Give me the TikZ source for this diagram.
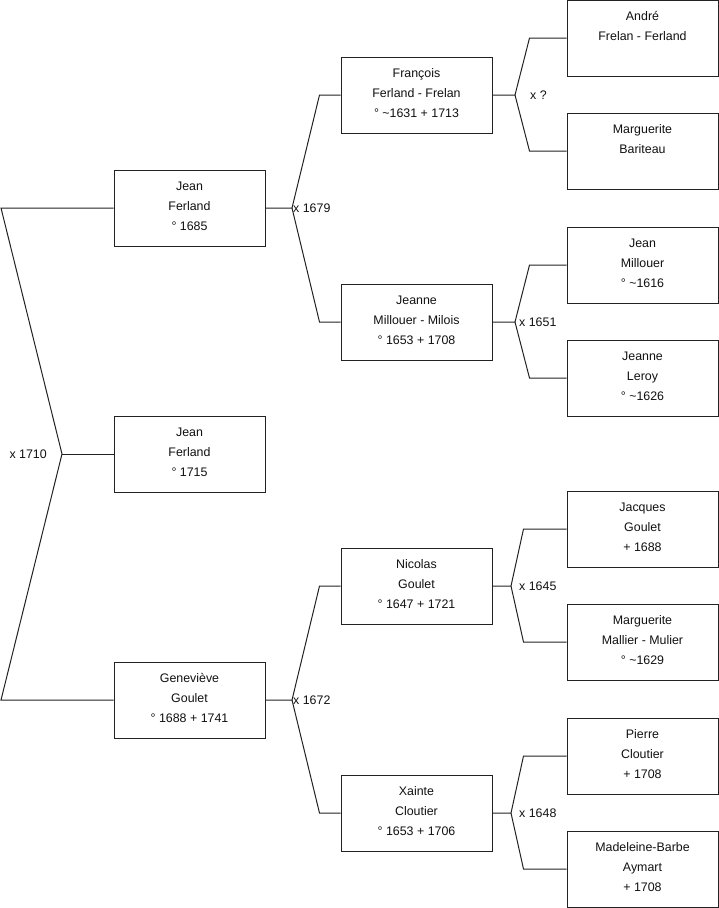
\documentclass[tikz,border=0pt]{standalone}
\usepackage{fontspec}
\setmainfont{Liberation Sans}
\usepackage{xcolor}
\usepackage{tikz}
\usetikzlibrary{positioning}
\definecolor{ink}{HTML}{111111}
\definecolor{edge}{HTML}{222222}
\tikzset{
  person/.style={draw=edge,fill=white,line width=1pt,minimum width=151pt,minimum height=76pt,inner sep=0pt,text depth=4pt,align=center,text=ink,font=\fontsize{12.4}{20}\selectfont},
  fork/.style={draw=edge,line width=1pt},
  wed/.style={font=\fontsize{12.4}{14}\selectfont,text=ink,inner sep=1pt},
}

\begin{document}
\begin{tikzpicture}[x=1pt,y=-1pt]
    \useasboundingbox (0,0) rectangle (719,908);
    % first generation
    \node[person] (jean) at (189.5,208) {Jean\\Ferland\\° 1685};
    \node[person] (jeanb) at (189.5,454) {Jean\\Ferland\\° 1715};
    \node[person] (genevieve) at (189.5,700) {Geneviève\\Goulet\\° 1688 + 1741};
    % second generation
    \node[person] (francois) at (416.5,95) {François\\Ferland - Frelan\\° \textasciitilde1631 + 1713};
    \node[person] (jeanne) at (416.5,322) {Jeanne\\Millouer - Milois\\° 1653 + 1708};
    \node[person] (nicolas) at (416.5,586) {Nicolas\\Goulet\\° 1647 + 1721};
    \node[person] (xainte) at (416.5,813) {Xainte\\Cloutier\\° 1653 + 1706};
    % third generation
    \node[person] (andre) at (642.5,38) {André\\Frelan - Ferland\\~};
    \node[person] (bariteau) at (642.5,151) {Marguerite\\Bariteau\\~};
    \node[person] (millouer) at (642.5,265) {Jean\\Millouer\\° \textasciitilde1616};
    \node[person] (leroy) at (642.5,378) {Jeanne\\Leroy\\° \textasciitilde1626};
    \node[person] (jacques) at (642.5,529) {Jacques\\Goulet\\+ 1688};
    \node[person] (mallier) at (642.5,642) {Marguerite\\Mallier - Mulier\\° \textasciitilde1629};
    \node[person] (pierre) at (642.5,756) {Pierre\\Cloutier\\+ 1708};
    \node[person] (aymart) at (642.5,869) {Madeleine-Barbe\\Aymart\\+ 1708};

    % root couple
    \coordinate (top) at (1,208);
    \coordinate (bot) at (1,700);
    \coordinate (root) at (62,454);
    \draw[fork] (jean.west) -- (top) -- (root) -- (bot) -- (genevieve.west);
    \draw[fork] (root) -- (jeanb.west);
    \node[wed,anchor=east] (w1710) at ([xshift=-14pt]root) {x 1710};

    % parents
    \coordinate (m1679) at (292,208);
    \draw[fork] (jean.east) -- (m1679) -- ([xshift=-21pt]francois.west) -- (francois.west);
    \draw[fork] (m1679) -- ([xshift=-21pt]jeanne.west) -- (jeanne.west);
    \node[wed,anchor=west] (w1679) at (m1679) {x 1679};

    \coordinate (m1672) at (292,700);
    \draw[fork] (genevieve.east) -- (m1672) -- ([xshift=-21pt]nicolas.west) -- (nicolas.west);
    \draw[fork] (m1672) -- ([xshift=-21pt]xainte.west) -- (xainte.west);
    \node[wed,anchor=west] (w1672) at (m1672) {x 1672};

    % grandparents
    \coordinate (mq) at (515,95);
    \draw[fork] (francois.east) -- (mq) -- ([xshift=-37pt]andre.west) -- (andre.west);
    \draw[fork] (mq) -- ([xshift=-37pt]bariteau.west) -- (bariteau.west);
    \node[wed,anchor=west] (wq) at ([xshift=14pt]mq) {x ?};

    \coordinate (m1651) at (515,322);
    \draw[fork] (jeanne.east) -- (m1651) -- ([xshift=-37pt]millouer.west) -- (millouer.west);
    \draw[fork] (m1651) -- ([xshift=-37pt]leroy.west) -- (leroy.west);
    \node[wed,anchor=west] (w1651) at ([xshift=3pt]m1651) {x 1651};

    \coordinate (m1645) at (511,586);
    \draw[fork] (nicolas.east) -- (m1645) -- ([xshift=-43pt]jacques.west) -- (jacques.west);
    \draw[fork] (m1645) -- ([xshift=-43pt]mallier.west) -- (mallier.west);
    \node[wed,anchor=west] (w1645) at ([xshift=7pt]m1645) {x 1645};

    \coordinate (m1648) at (511,813);
    \draw[fork] (xainte.east) -- (m1648) -- ([xshift=-43pt]pierre.west) -- (pierre.west);
    \draw[fork] (m1648) -- ([xshift=-43pt]aymart.west) -- (aymart.west);
    \node[wed,anchor=west] (w1648) at ([xshift=7pt]m1648) {x 1648};
  \end{tikzpicture}
\end{document}
